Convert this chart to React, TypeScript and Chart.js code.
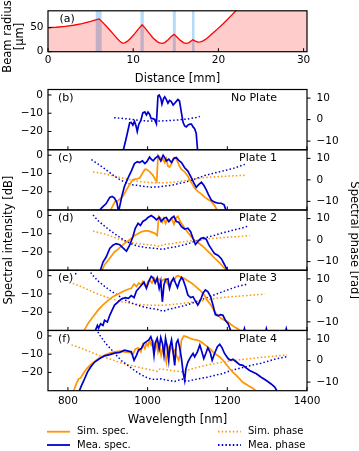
import React, { useEffect, useRef } from 'react';
import { Chart, registerables } from 'chart.js';

Chart.register(...registerables);
Chart.defaults.font.family = '"DejaVu Sans", sans-serif';
Chart.defaults.color = '#000';

// ---------- panel (a): beam radius ----------
const distanceMm = [0, 1, 2, 3, 4, 5, 5.6, 6.0, 6.3, 6.8, 7.3, 7.8, 8.2, 8.5, 8.75, 9.0, 9.3, 9.7, 10.2, 10.6, 11.05, 11.3, 11.8, 12.3, 12.8, 13.1, 13.4, 13.7, 14.1, 14.5, 14.8, 15.1, 15.5, 15.9, 16.2, 16.5, 17.0, 17.3, 17.6, 17.9, 18.2, 18.6, 19.0, 19.5, 20.0, 20.5, 21.0, 21.5, 22.0, 23.0, 25, 28, 30.5];
const beamRadiusUm = [50, 50.8, 52.5, 55, 58.5, 63, 66, 68, 63, 54, 44, 34, 26, 20.5, 18, 18.5, 21.5, 28, 38, 47, 56, 51, 40, 29, 21, 18.5, 17.5, 19, 25, 32, 36, 31, 24, 19, 17.5, 18.5, 25, 22, 20, 20.5, 22.5, 27, 33, 41, 49, 57, 66, 75, 84, 102, 138, 192, 237];
const plateStartMm = [5.6, 10.85, 14.65, 16.9];
const plateEndMm = [6.3, 11.25, 15.0, 17.2];
const distanceTicks = [0, 10, 20, 30];
const radiusTicks = [0, 50];
const radiusTitle = ['Beam radius', '[μm]'];

// ---------- panels (b)-(f): spectra ----------
const wavelengthTicks = [800, 1000, 1200, 1400];
const intensityTicks = [-20, -10, 0];
const phaseTicks = [-10, 0, 10];
const panelLetters = ['(b)', '(c)', '(d)', '(e)', '(f)'];
const panelNames = ['No Plate', 'Plate 1', 'Plate 2', 'Plate 3', 'Plate 4'];
const legendLabels = ['Sim. spec.', 'Sim. phase', 'Mea. spec.', 'Mea. phase'];

// (b) No Plate
const bMeaWl = [937, 946, 955, 959, 963, 967, 971, 974, 978, 983, 988, 993, 997, 1001, 1005, 1009, 1014, 1018, 1022, 1026, 1029, 1033, 1036, 1040, 1043, 1047, 1051, 1055, 1059, 1064, 1068, 1072, 1076, 1080, 1085, 1089, 1093, 1097, 1101, 1106, 1110, 1114, 1118, 1122, 1126];
const bMeaDb = [-32, -24, -15.2, -15, -16.5, -14.5, -17, -20, -16, -14, -9.8, -9.3, -11, -9.4, -10.5, -13, -13, -13.5, -15.7, -0.5, 0, -1.8, -5, -2, -1, -2.5, -4.5, -3, -3.5, -5.5, -4.5, -3.5, -2.5, -3.3, -10, -15, -17, -17.5, -16.5, -16, -16, -17.5, -18.5, -21, -32];
const bMeaPhWl = [916, 935, 951, 968, 984, 1001, 1018, 1035, 1051, 1068, 1085, 1100, 1110, 1122, 1131];
const bMeaPh = [0.9, 0.6, 0.3, -0.1, -0.5, -0.6, -0.6, -0.6, -0.5, -0.3, 0, 0.3, 0.6, 1.0, 1.5];

// (c) Plate 1
const cSimWl = [905, 913, 918, 925, 930, 938, 947, 955, 963, 972, 980, 988, 993, 997, 1001, 1005, 1013, 1019, 1023, 1026, 1030, 1034, 1039, 1043, 1047, 1051, 1055, 1060, 1064, 1068, 1072, 1076, 1080, 1085, 1093, 1101, 1110, 1118, 1126, 1135, 1143, 1151, 1160, 1168, 1177];
const cSimDb = [-31, -27.5, -25.5, -25, -24, -22.5, -19, -16, -13.5, -13, -12.5, -9.6, -7.8, -7.8, -8.3, -9, -10.9, -13.3, -14.3, 0, -0.9, -3, -2, -4, -2, -6, -6.5, -4.6, -2.2, -1.3, -1.9, -4, -6, -7.8, -9.1, -11.5, -15, -18, -19.8, -21.3, -23, -24.1, -25.4, -27.6, -31];
const cMeaWl = [877, 884, 896, 905, 911, 917, 923, 927, 932, 936, 942, 951, 959, 967, 974, 980, 987, 993, 998, 1005, 1009, 1014, 1019, 1026, 1033, 1039, 1043, 1047, 1053, 1060, 1066, 1072, 1078, 1085, 1093, 1101, 1110, 1116, 1122, 1128, 1135, 1141, 1147, 1153, 1160, 1168, 1177, 1185, 1192, 1198];
const cMeaDb = [-31, -29, -26.5, -23.1, -22.6, -23.5, -26, -31, -26, -21.9, -17, -12.4, -8.7, -4.6, -3.5, -4, -3.1, -4.6, -3.5, -1, -2.2, -3.1, -1.7, -0.4, -3.1, 0, -1.3, -3.1, -2.2, -4, -1.7, -1.3, -2.8, -4, -6.9, -8.7, -12.4, -15.2, -17.6, -16.1, -14.8, -16.5, -18.9, -21.7, -24.6, -25.7, -26.3, -26.3, -27.2, -31];
const cSimPhWl = [863, 892, 917, 951, 984, 1018, 1051, 1085, 1118, 1151, 1185, 1218, 1244];
const cSimPh = [3.7, 2.8, 1.7, 0.2, -0.9, -1.4, -1.3, -0.6, 0.5, 1.2, 1.6, 1.9, 2.1];
const cMeaPhWl = [859, 875, 892, 909, 926, 942, 959, 976, 993, 1009, 1026, 1043, 1060, 1076, 1093, 1110, 1126, 1143, 1168, 1193, 1218, 1244];
const cMeaPh = [9.4, 7.4, 5.2, 2.8, 0.6, -1.1, -2.2, -2.6, -3.1, -3.4, -3.3, -2.9, -2.5, -1.8, -1.1, -0.2, 0.9, 2.0, 3.2, 4.3, 5.5, 7.2];

// (d) Plate 2
const dSimWl = [884, 892, 901, 909, 917, 926, 934, 942, 951, 959, 967, 976, 984, 993, 1001, 1009, 1018, 1024, 1028, 1033, 1037, 1041, 1045, 1049, 1055, 1060, 1066, 1072, 1076, 1080, 1085, 1093, 1101, 1110, 1118, 1126, 1135, 1143, 1151, 1160, 1168, 1177, 1185, 1193, 1201];
const dSimDb = [-31, -27, -24.5, -22.2, -20, -18.5, -16.8, -15.3, -14, -12.5, -11, -10, -9, -8.5, -8.5, -9, -9.8, -11, -0.5, -1.5, -3.7, -1.5, -4.3, -2.4, -3.3, -1.5, -4.8, -1.1, -0.5, -2.4, -4.3, -7, -9.3, -11.7, -13.5, -14.8, -16.3, -17.8, -19.6, -21.5, -23.3, -25.2, -27, -28.9, -31];
const dMeaWl = [880, 888, 896, 905, 913, 921, 930, 938, 947, 955, 963, 969, 976, 982, 988, 995, 1001, 1009, 1016, 1022, 1029, 1034, 1041, 1047, 1053, 1060, 1066, 1072, 1078, 1085, 1093, 1101, 1108, 1114, 1120, 1126, 1133, 1140, 1147, 1154, 1162, 1168, 1177, 1185, 1193, 1202];
const dMeaDb = [-31, -25.5, -22.8, -18.1, -16.3, -15.4, -16, -17.8, -19.6, -16.3, -11.7, -7, -4.3, -5.5, -3.3, -2.4, -1.1, 0, -1.1, -2.4, -1.1, -3.3, -1.5, -1.1, -3.3, -1.5, -0.5, -3.3, -3.7, -6.1, -7.4, -7, -8.9, -12.6, -15.9, -14.4, -12.6, -12.2, -13, -16.3, -19, -20.9, -21.9, -23.7, -27, -31];
const dSimPhWl = [863, 892, 926, 959, 993, 1020, 1031, 1038, 1060, 1085, 1118, 1151, 1185, 1218, 1256];
const dSimPh = [4.1, 2.9, 0.6, -1.2, -2.0, -2.5, -2.9, -2.1, -1.7, -0.9, -0.2, 0.6, 1.1, 1.5, 2.1];
const dMeaPhWl = [863, 875, 892, 909, 926, 942, 959, 976, 993, 1009, 1026, 1039, 1051, 1068, 1085, 1101, 1118, 1135, 1151, 1168, 1185, 1202, 1218, 1235, 1252];
const dMeaPh = [11.7, 9.1, 6.5, 4, 1.8, -0.2, -1.7, -2.8, -3.4, -3.7, -4, -4.3, -3.7, -3.2, -2.5, -1.7, -0.6, 0.3, 1.4, 2.2, 3.2, 4, 4.8, 5.5, 6.5];

// (e) Plate 3
const eSimWl = [838, 842, 850, 863, 875, 888, 901, 913, 926, 938, 951, 959, 966, 972, 978, 983, 988, 993, 997, 1001, 1005, 1011, 1016, 1022, 1028, 1034, 1039, 1044, 1049, 1054, 1060, 1066, 1072, 1076, 1085, 1093, 1101, 1110, 1118, 1126, 1135, 1143, 1151, 1160, 1168, 1177, 1185, 1193, 1202, 1210, 1218, 1227, 1236];
const eSimDb = [-31, -29.5, -26.3, -22.5, -19, -16, -13.5, -11.5, -10, -8.6, -7.4, -6.9, -4.6, -5.9, -4, -5, -3.1, -5.4, -5.9, -3.1, -2.2, -4, -1.3, -3.1, -1.7, -3.5, -2.2, -1.7, -4, -5.9, -3.1, -2.8, -0.4, 0, -0.9, -1.7, -2.8, -4, -5.4, -6.9, -8.7, -10.9, -13.9, -16.5, -19.8, -21.9, -23.5, -24.4, -25.4, -26.9, -28.1, -29.2, -31];
const eMeaWl = [867, 874, 877, 882, 888, 892, 899, 905, 911, 917, 926, 934, 944, 952, 959, 966, 972, 978, 984, 991, 997, 1003, 1009, 1014, 1019, 1024, 1029, 1033, 1037, 1041, 1045, 1051, 1055, 1060, 1065, 1070, 1075, 1080, 1085, 1089, 1095, 1101, 1108, 1114, 1120, 1126, 1133, 1139, 1145, 1151, 1158, 1164, 1170, 1177, 1183, 1189, 1195, 1202, 1210, 1240, 1243, 1246, 1295, 1298, 1301, 1345, 1348, 1351];
const eMeaDb = [-31, -27.2, -28.7, -26.3, -27.2, -24.4, -25.4, -21.7, -18.9, -16.1, -14.3, -12.8, -12, -12.4, -10.9, -12, -8.3, -6.9, -5.4, -3.5, -6.9, -3.1, -0.4, -1.3, -4, -1.3, -6.9, -3.1, -14.3, -5, -2.2, -1.7, -6.9, -3.1, -1.3, -4, -6.5, -3.1, -0.9, -2.2, -5.9, -10.6, -12, -11.5, -13.9, -16.1, -13.3, -9.6, -7.8, -8.7, -11.5, -16.1, -21.3, -22, -21.3, -21.7, -24.4, -26.3, -31, -31.5, -29, -31.5, -31.5, -29, -31.5, -31.5, -29, -31.5];
const eSimPhWl = [803, 817, 834, 859, 884, 909, 934, 959, 984, 1009, 1034, 1060, 1085, 1110, 1135, 1160, 1185, 1218, 1252, 1294];
const eSimPh = [8.2, 7.6, 6.3, 4.2, 2.3, 0.8, -0.6, -1.5, -2, -2.3, -2.3, -2, -1.5, -0.9, -0.2, 0.6, 1.3, 1.8, 2.3, 2.9];
const eMeaPhWl = [819, 823, 827, 850, 859, 875, 892, 909, 926, 942, 959, 976, 993, 1009, 1026, 1039, 1051, 1068, 1085, 1101, 1118, 1135, 1151, 1168, 1185, 1202, 1218, 1235, 1252];
const eMeaPh = [12, 14.5, 17, 17, 12.3, 9.1, 6.5, 4.2, 2.3, 0.3, -1.2, -2.3, -3.2, -3.8, -4.3, -5.1, -4.3, -3.5, -2.8, -2, -0.9, 0.3, 1.4, 2.6, 3.8, 4.9, 6, 6.9, 7.5];

// (f) Plate 4
const fSimWl = [813, 821, 827, 832, 838, 846, 855, 867, 880, 892, 905, 917, 930, 942, 955, 963, 969, 976, 983, 988, 993, 997, 1001, 1005, 1009, 1014, 1018, 1022, 1026, 1030, 1034, 1039, 1043, 1047, 1051, 1055, 1060, 1064, 1068, 1072, 1078, 1082, 1085, 1091, 1097, 1106, 1114, 1122, 1131, 1139, 1147, 1156, 1164, 1172, 1181, 1189, 1198, 1206, 1214, 1223, 1231, 1239, 1252, 1264, 1277];
const fSimDb = [-31, -26.3, -23.5, -23, -20.7, -18.3, -16.1, -13.9, -12, -10.6, -9.4, -8.7, -8.3, -8.7, -9, -10.2, -7.2, -6.5, -8.7, -4.6, -6.9, -4, -5.4, -2.2, -5, -3.1, -7.8, -4, -8.7, -5, -10.6, -6, -9.6, -14.3, -6, -8.7, -5, -9, -7.8, -10.6, -13.3, -9.6, -2.2, 0, -0.4, -1.3, -1.9, -2.2, -2.8, -4, -5.4, -6.9, -8.7, -10.2, -11.5, -13.3, -15.7, -18, -19.8, -21.7, -23.5, -25.4, -27.2, -28.7, -31];
const fMeaWl = [827, 834, 840, 849, 857, 867, 880, 892, 905, 917, 930, 942, 952, 959, 966, 972, 977, 984, 991, 997, 1003, 1008, 1012, 1016, 1019, 1024, 1029, 1033, 1037, 1041, 1045, 1049, 1053, 1056, 1060, 1064, 1068, 1072, 1076, 1080, 1085, 1089, 1093, 1096, 1101, 1108, 1114, 1118, 1125, 1131, 1135, 1141, 1146, 1151, 1157, 1162, 1168, 1175, 1181, 1187, 1193, 1202, 1208, 1214, 1223, 1231, 1239, 1248, 1256, 1264, 1273, 1285, 1298, 1310, 1319, 1327];
const fMeaDb = [-31, -27.2, -24.4, -19.8, -17, -14.3, -12.4, -10.9, -10.2, -9.4, -9, -7.8, -8.3, -8.7, -13.3, -10.6, -7.8, -6.9, -4, -3.1, -2.2, -0.4, -3.1, -10.6, -4, -1.3, -6.9, -0.9, -4, -10.6, -1.3, -5.9, -13.3, -5.9, -2.2, -8.7, -16.1, -4, -2.2, -5.9, -12.4, -19.8, -24.4, -18, -14.3, -11.5, -9.6, -11.5, -8.7, -5, -7.8, -12.4, -9.6, -6.5, -9, -13.3, -9.6, -5.9, -4.6, -6.5, -9.6, -12.4, -13.3, -12.8, -14.3, -15.7, -16.1, -17.6, -18.9, -19.8, -20.7, -22.6, -24.4, -26.3, -28, -31];
const fSimPhWl = [809, 834, 859, 884, 909, 934, 959, 984, 1009, 1024, 1031, 1045, 1060, 1076, 1090, 1101, 1126, 1151, 1177, 1202, 1227, 1252, 1285, 1319, 1350];
const fSimPh = [7.3, 5.7, 3.8, 2, 0.5, -1.1, -2.3, -3.4, -4.3, -5, -3.9, -4.2, -4.6, -5.0, -5.3, -4.4, -3.1, -2, -1.1, -0.3, 0.3, 0.8, 1.5, 2.1, 2.6];
const fMeaPhWl = [873, 877, 884, 896, 909, 921, 934, 951, 967, 984, 1001, 1018, 1034, 1051, 1068, 1076, 1089, 1097, 1106, 1118, 1135, 1151, 1168, 1185, 1202, 1218, 1235, 1252, 1269, 1285, 1302, 1319, 1336, 1350];
const fMeaPh = [15, 12.5, 10.8, 7.7, 5.1, 2.6, 0, -2.3, -4.6, -6.6, -8.2, -8.8, -8.5, -9.2, -9.7, -9.2, -8.6, -9.8, -9.3, -8.8, -8.2, -7.7, -6.9, -6.2, -5.1, -4.2, -3.4, -2.6, -1.8, -1.2, -0.3, 0.6, 1.3, 1.9];

// ---------- layout / style ----------
const W = 359;
const H = 451;
const PLOT_RIGHT = 307;
const A_TOP = 9.3;
const A_BOTTOM = 51.7;
const SPEC_TOP = 89.5;
const SPEC_BOTTOM = 390.7;
const PANEL_H = (SPEC_BOTTOM - SPEC_TOP) / 5;
const ORANGE = '#ff9500';
const BLUE = '#0000cd';
const RED = '#ff0000';
const DOT = [1.5, 2.2];
const TICK_FONT = { size: 10.5 };
const TITLE_FONT = { size: 11.5, lineHeight: 1.0 };

type Pt = { x: number; y: number };
const pts = (xs: number[], ys: number[]): Pt[] => xs.map((x, i) => ({ x, y: ys[i] }));
const fmt = (v: number | string) => {
  const n = Number(v);
  return n < 0 ? '\u2212' + Math.abs(n) : String(n);
};
const setTicks = (vals: number[]) => (s: any) => {
  s.ticks = vals.map((v) => ({ value: v }));
};

type Deco = {
  xTicks: number[];
  yTicks: number[];
  y2Ticks?: number[];
  letter: string;
  letterDx: number;
  name?: string;
  bands?: { start: number[]; end: number[] };
  legend?: boolean;
  yTitle?: string[];
};

function decoPlugin(d: Deco) {
  return {
    id: 'deco',
    beforeDatasetsDraw(chart: any) {
      if (!d.bands) return;
      const { ctx, chartArea: ca, scales } = chart;
      ctx.save();
      ctx.fillStyle = 'rgba(90,175,235,0.45)';
      d.bands.start.forEach((s, i) => {
        const x0 = scales.x.getPixelForValue(s);
        const x1 = scales.x.getPixelForValue(d.bands!.end[i]);
        ctx.fillRect(x0, ca.top, x1 - x0, ca.bottom - ca.top);
      });
      ctx.restore();
    },
    afterDraw(chart: any) {
      const { ctx, chartArea: ca, scales } = chart;
      ctx.save();
      ctx.strokeStyle = '#000';
      ctx.lineWidth = 1.2;
      ctx.strokeRect(ca.left, ca.top, ca.right - ca.left, ca.bottom - ca.top);
      ctx.lineWidth = 1;
      ctx.beginPath();
      d.xTicks.forEach((v) => {
        const p = scales.x.getPixelForValue(v);
        ctx.moveTo(p, ca.bottom);
        ctx.lineTo(p, ca.bottom - 3.5);
      });
      d.yTicks.forEach((v) => {
        const p = scales.y.getPixelForValue(v);
        ctx.moveTo(ca.left, p);
        ctx.lineTo(ca.left + 3.5, p);
      });
      (d.y2Ticks || []).forEach((v) => {
        const p = scales.y2.getPixelForValue(v);
        ctx.moveTo(ca.right, p);
        ctx.lineTo(ca.right + 3.5, p);
      });
      ctx.stroke();

      ctx.fillStyle = '#000';
      ctx.font = '11px "DejaVu Sans"';
      ctx.textBaseline = 'middle';
      ctx.textAlign = 'left';
      ctx.fillText(d.letter, ca.left + d.letterDx, ca.top + 8.4);
      if (d.name) {
        ctx.textAlign = 'right';
        ctx.fillText(d.name, ca.right - 30, ca.top + 8.4);
      }

      if (d.yTitle) {
        ctx.font = '11.5px "DejaVu Sans"';
        ctx.textAlign = 'center';
        const cy = (ca.top + ca.bottom) / 2 + 5.2;
        d.yTitle.forEach((line, k) => {
          ctx.save();
          ctx.translate(8.3 + k * 11.6, cy);
          ctx.rotate(-Math.PI / 2);
          ctx.fillText(line, 0, 0);
          ctx.restore();
        });
      }

      if (d.legend) {
        ctx.font = '10px "DejaVu Sans"';
        ctx.textAlign = 'left';
        legendLabels.forEach((label, i) => {
          const ds = chart.data.datasets.find((x: any) => x.label === label);
          if (!ds) return;
          const col = i % 2;
          const row = Math.floor(i / 2);
          const x = ca.left - 1 + col * 171;
          const y = ca.bottom + 41 + row * 13.3;
          ctx.strokeStyle = ds.borderColor;
          ctx.lineWidth = 1.8;
          ctx.setLineDash(ds.borderDash || []);
          ctx.beginPath();
          ctx.moveTo(x, y);
          ctx.lineTo(x + 23, y);
          ctx.stroke();
          ctx.setLineDash([]);
          ctx.fillStyle = '#000';
          ctx.fillText(label, x + 30, y);
        });
      }
      ctx.restore();
    },
  };
}

function beamConfig(): any {
  const xAxisH = 34;
  return {
    type: 'line',
    data: {
      datasets: [
        {
          label: 'Beam radius',
          data: pts(distanceMm, beamRadiusUm),
          borderColor: RED,
          borderWidth: 1.3,
          backgroundColor: 'rgba(255,0,0,0.2)',
          fill: 'origin',
          pointRadius: 0,
          tension: 0,
        },
      ],
    },
    options: {
      animation: false,
      responsive: false,
      events: [],
      layout: { padding: { left: 0, right: W - PLOT_RIGHT, top: A_TOP, bottom: H - A_BOTTOM - xAxisH } },
      plugins: { legend: { display: false }, tooltip: { enabled: false } },
      scales: {
        x: {
          type: 'linear',
          min: 0,
          max: 30.4,
          afterBuildTicks: setTicks(distanceTicks),
          afterFit: (s: any) => { s.height = xAxisH; },
          grid: { display: false, drawTicks: false },
          border: { display: false },
          ticks: { padding: 2.5, font: TICK_FONT, callback: fmt, autoSkip: false, maxRotation: 0 },
          title: { display: true, text: 'Distance [mm]', font: { size: 11.5, lineHeight: 1.2 }, padding: 0 },
        },
        y: {
          type: 'linear',
          min: 0,
          max: 85,
          afterBuildTicks: setTicks(radiusTicks),
          afterFit: (s: any) => { s.width = 48; },
          grid: { display: false, drawTicks: false },
          border: { display: false },
          ticks: { padding: 4.5, font: TICK_FONT, callback: fmt, autoSkip: false },
          title: { display: false },
        },
      },
    },
    plugins: [
      decoPlugin({
        xTicks: distanceTicks,
        yTicks: radiusTicks,
        letter: '(a)',
        letterDx: 11.5,
        bands: { start: plateStartMm, end: plateEndMm },
        yTitle: radiusTitle,
      }),
    ],
  };
}

type Panel = {
  meaWl: number[]; meaDb: number[];
  simWl?: number[]; simDb?: number[];
  meaPhWl: number[]; meaPh: number[];
  simPhWl?: number[]; simPh?: number[];
};

const panels: Panel[] = [
  { meaWl: bMeaWl, meaDb: bMeaDb, meaPhWl: bMeaPhWl, meaPh: bMeaPh },
  { meaWl: cMeaWl, meaDb: cMeaDb, simWl: cSimWl, simDb: cSimDb, meaPhWl: cMeaPhWl, meaPh: cMeaPh, simPhWl: cSimPhWl, simPh: cSimPh },
  { meaWl: dMeaWl, meaDb: dMeaDb, simWl: dSimWl, simDb: dSimDb, meaPhWl: dMeaPhWl, meaPh: dMeaPh, simPhWl: dSimPhWl, simPh: dSimPh },
  { meaWl: eMeaWl, meaDb: eMeaDb, simWl: eSimWl, simDb: eSimDb, meaPhWl: eMeaPhWl, meaPh: eMeaPh, simPhWl: eSimPhWl, simPh: eSimPh },
  { meaWl: fMeaWl, meaDb: fMeaDb, simWl: fSimWl, simDb: fSimDb, meaPhWl: fMeaPhWl, meaPh: fMeaPh, simPhWl: fSimPhWl, simPh: fSimPh },
];

function spectrumConfig(i: number): any {
  const p = panels[i];
  const top = SPEC_TOP + i * PANEL_H;
  const bottom = top + PANEL_H;
  const last = i === 4;
  const mid = i === 2;
  const xAxisH = last ? 36 : 0;
  const common = { pointRadius: 0, tension: 0, fill: false };
  const datasets: any[] = [
    { ...common, label: 'Mea. spec.', data: pts(p.meaWl, p.meaDb), borderColor: BLUE, borderWidth: 1.7, yAxisID: 'y' },
  ];
  if (p.simWl && p.simDb) {
    datasets.push({ ...common, label: 'Sim. spec.', data: pts(p.simWl, p.simDb), borderColor: ORANGE, borderWidth: 1.7, yAxisID: 'y' });
  }
  datasets.push({ ...common, label: 'Mea. phase', data: pts(p.meaPhWl, p.meaPh), borderColor: BLUE, borderWidth: 1.5, borderDash: DOT, yAxisID: 'y2' });
  if (p.simPhWl && p.simPh) {
    datasets.push({ ...common, label: 'Sim. phase', data: pts(p.simPhWl, p.simPh), borderColor: ORANGE, borderWidth: 1.5, borderDash: DOT, yAxisID: 'y2' });
  }
  return {
    type: 'line',
    data: { datasets },
    options: {
      animation: false,
      responsive: false,
      events: [],
      layout: { padding: { left: 0, right: 0, top, bottom: H - bottom - xAxisH } },
      plugins: { legend: { display: false }, tooltip: { enabled: false } },
      scales: {
        x: {
          type: 'linear',
          min: 750,
          max: 1400,
          display: last,
          afterBuildTicks: setTicks(wavelengthTicks),
          afterFit: (s: any) => { s.height = xAxisH; },
          grid: { display: false, drawTicks: false },
          border: { display: false },
          ticks: { padding: 4, font: TICK_FONT, callback: fmt, autoSkip: false, maxRotation: 0 },
          title: { display: last, text: 'Wavelength [nm]', font: { size: 11.5, lineHeight: 1.2 }, padding: 0 },
        },
        y: {
          type: 'linear',
          position: 'left',
          min: -30,
          max: 3,
          afterBuildTicks: setTicks(intensityTicks),
          afterFit: (s: any) => { s.width = 48; },
          grid: { display: false, drawTicks: false },
          border: { display: false },
          ticks: { padding: 5, font: TICK_FONT, callback: fmt, autoSkip: false },
          title: { display: mid, text: 'Spectral intensity [dB]', font: TITLE_FONT, padding: { top: 3.5, bottom: 0 } },
        },
        y2: {
          type: 'linear',
          position: 'right',
          min: -14,
          max: 14,
          afterBuildTicks: setTicks(phaseTicks),
          afterFit: (s: any) => { s.width = W - PLOT_RIGHT; },
          grid: { display: false, drawTicks: false },
          border: { display: false },
          ticks: { padding: 9.5, font: TICK_FONT, callback: fmt, autoSkip: false },
          title: { display: mid, text: 'Spectral phase [rad]', font: TITLE_FONT, padding: { top: -1, bottom: 0 } },
        },
      },
    },
    plugins: [
      decoPlugin({
        xTicks: wavelengthTicks,
        yTicks: intensityTicks,
        y2Ticks: phaseTicks,
        letter: panelLetters[i],
        letterDx: 10,
        name: panelNames[i],
        legend: last,
      }),
    ],
  };
}

export default function App() {
  const refs = useRef<(HTMLCanvasElement | null)[]>([]);
  useEffect(() => {
    const configs = [beamConfig(), ...[0, 1, 2, 3, 4].map(spectrumConfig)];
    const charts = configs.map((cfg, i) => new Chart(refs.current[i] as HTMLCanvasElement, cfg));
    return () => charts.forEach((c) => c.destroy());
  }, []);
  return (
    <div style={{ position: 'absolute', left: 0, top: 0, width: W, height: H, background: '#fff' }}>
      {[0, 1, 2, 3, 4, 5].map((i) => (
        <canvas
          key={i}
          ref={(el) => { refs.current[i] = el; }}
          width={W}
          height={H}
          style={{ position: 'absolute', left: 0, top: 0, width: W, height: H }}
        />
      ))}
    </div>
  );
}
